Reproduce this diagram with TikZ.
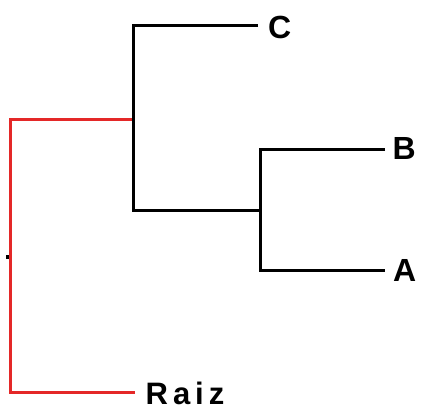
\documentclass[tikz,border=0pt]{standalone}
\usepackage{fontspec}
\setmainfont{Liberation Sans}
\newfontfamily\spacedfont[LetterSpace=16]{Liberation Sans}
\definecolor{treered}{RGB}{228,40,40}
\begin{document}
\begin{tikzpicture}[x=1pt,y=-1pt,
  branch/.style={line width=3pt,line join=miter,line cap=butt},
  rootbranch/.style={branch,draw=treered},
  leafbranch/.style={branch,draw=black},
  leaf/.style={anchor=west,inner sep=0pt,font=\fontsize{32}{32}\selectfont\bfseries},
  rootlabel/.style={anchor=west,inner sep=0pt,font=\fontsize{31}{31}\selectfont\spacedfont\bfseries}]
\useasboundingbox (0,0) rectangle (421,413);
% coordinates
\coordinate (r0) at (10.5,119);
\coordinate (r1) at (10.5,392);
\coordinate (j1) at (133.5,119);
\coordinate (c1) at (133.5,25);
\coordinate (c2) at (133.5,210);
\coordinate (j2) at (260,210);
\coordinate (b1) at (260,149);
\coordinate (a1) at (260,270);
\coordinate (ce) at (258,25);
\coordinate (be) at (385,149);
\coordinate (ae) at (385,270);
\coordinate (re) at (135,392);
% labels
\node[leaf] (C) at (268,27) {C};
\node[leaf] (B) at (392.5,148) {B};
\node[leaf] (A) at (393,270) {A};
\node[rootlabel] (Raiz) at (145.5,393) {Raiz};
% small tick
\fill[black] (6,255) rectangle (9.5,258.5);
% red root branch
\draw[rootbranch] (j1) -- (r0) -- (r1) -- (re);
% black branches
\draw[leafbranch] (ce) -- (c1) -- (c2) -- (j2);
\draw[leafbranch] (be) -- (b1) -- (a1) -- (ae);
\end{tikzpicture}
\end{document}
